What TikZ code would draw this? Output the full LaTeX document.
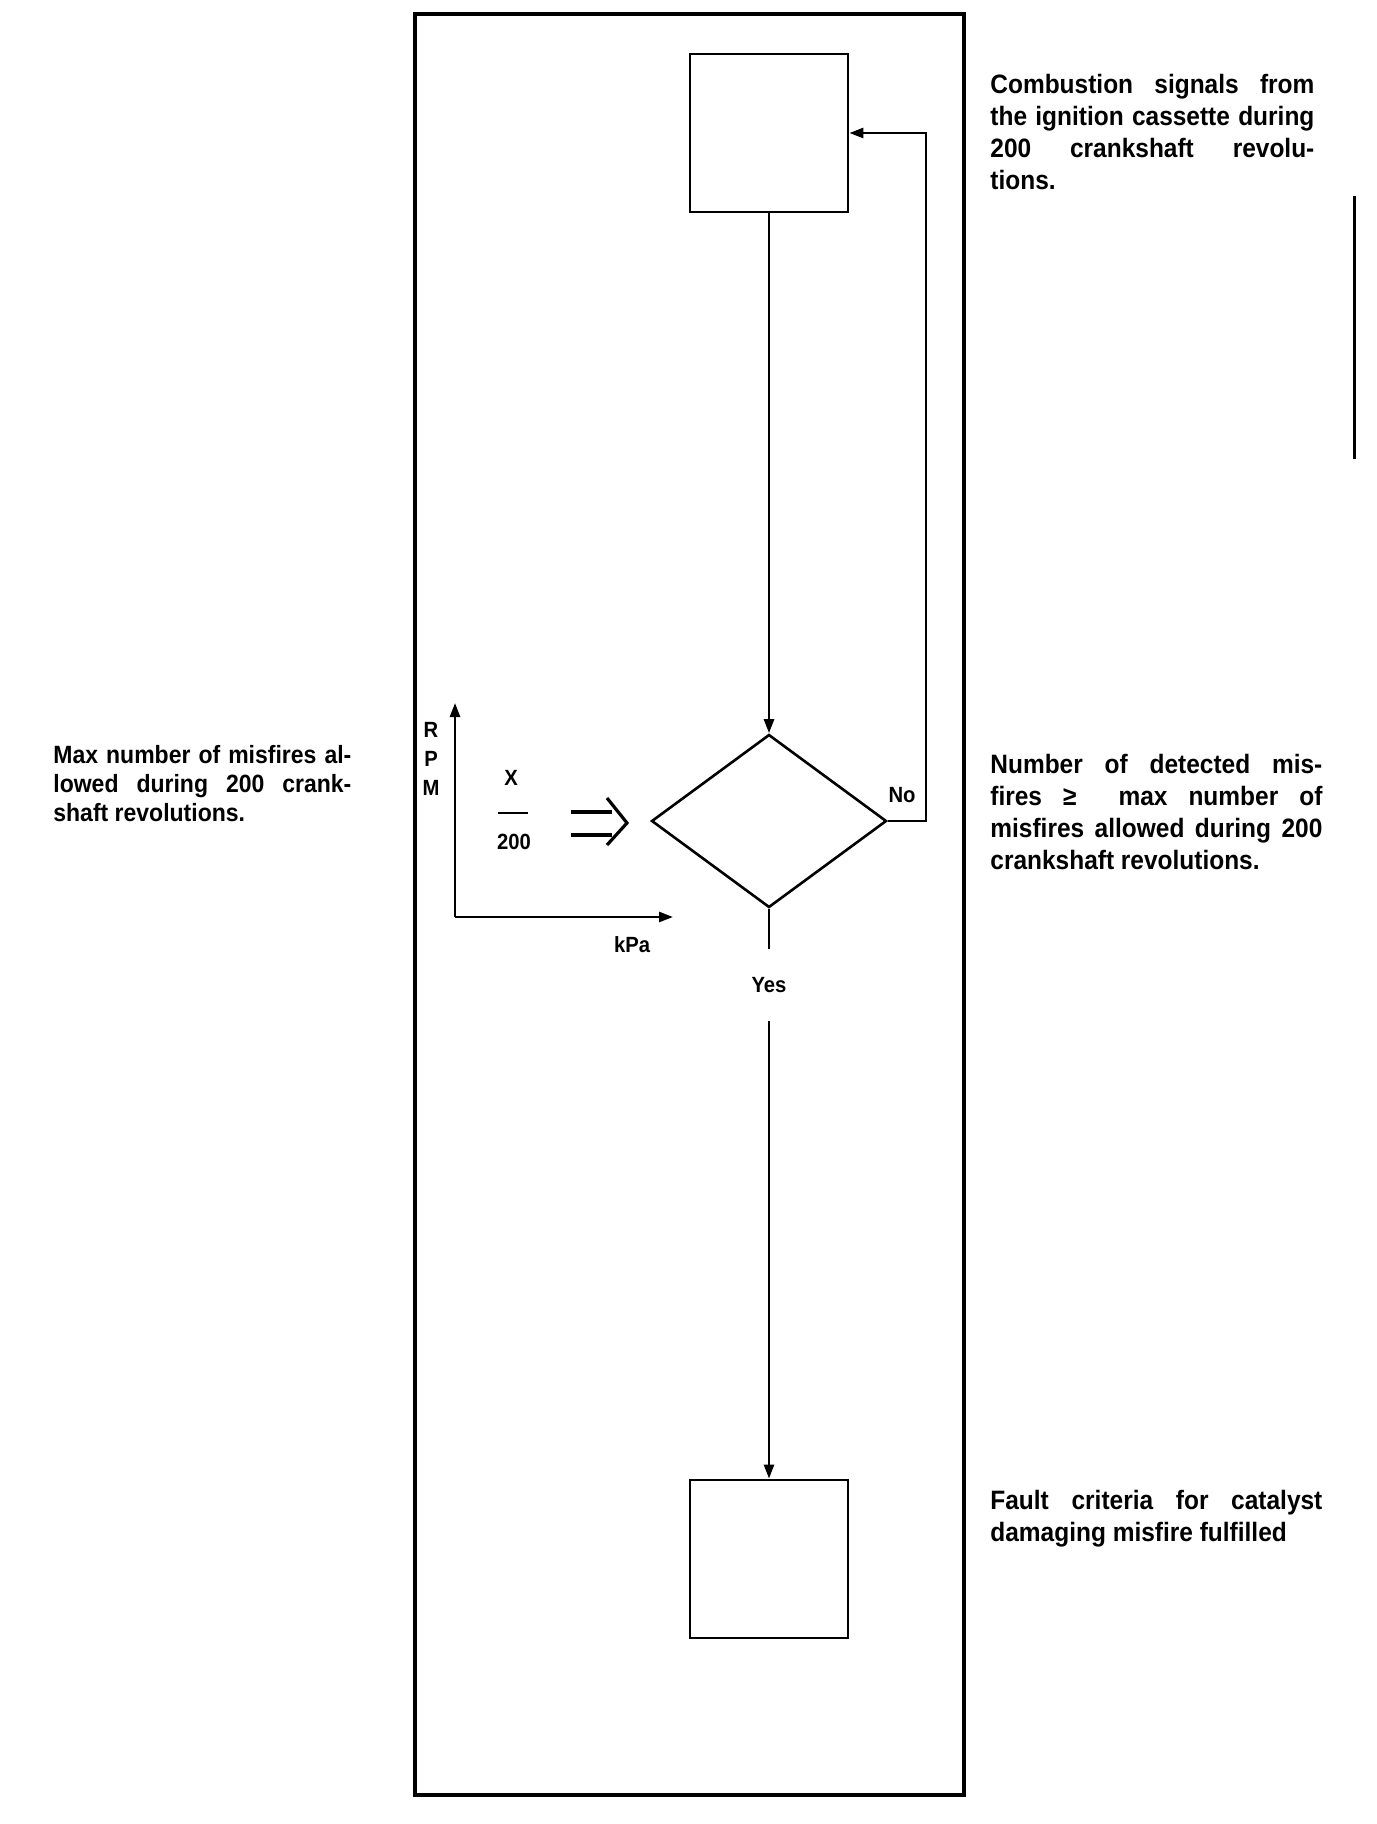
\documentclass[tikz,border=0pt]{standalone}
\usepackage{fontspec}
\setmainfont{Liberation Sans}[FakeStretch=0.92]
\usetikzlibrary{positioning, arrows.meta, shapes.geometric}

\begin{document}
\begin{tikzpicture}[x=0.5pt, y=-0.5pt,
  every node/.style={font=\bfseries\fontsize{11}{13}\selectfont, inner sep=0pt},
  arr/.style={-{Triangle[length=7pt, width=5pt]}, line width=1.3pt},
  line/.style={line width=1.3pt},
  stepbox/.style={draw, line width=1.4pt, minimum width=79pt, minimum height=79pt},
  decision/.style={draw, diamond, line width=1.3pt, minimum width=117.5pt,
    minimum height=86.5pt},
  note/.style={anchor=north west, align=justify,
    font=\bfseries\fontsize{13.3}{16}\selectfont}
]
  \useasboundingbox (0,0) rectangle (1376,1824);

  % Frame
  \draw[line width=1.7pt] (415,14) rectangle (964,1795);

  % Flow
  \node[stepbox] (sig) at (769,133) {};
  \node[decision] (dec) at (769,821) {};
  \node[stepbox] (fault) at (769,1559) {};
  \node[minimum height=36pt] (yes) at (769,985) {Yes};
  \node (no) at (902,795) {No};

  \draw[arr] (sig.south) -- (dec.north);
  \draw[arr] (dec.east) -- ++(38,0) |- (sig.east);
  \draw[line] (dec.south) -- (yes.north);
  \draw[arr] (yes.south) -- (fault.north);

  % RPM / kPa map
  \coordinate (orig) at (455,917);
  \coordinate (rpmtip) at (455,703);
  \coordinate (kpatip) at (673,917);
  \draw[arr] (orig) -- (rpmtip);
  \draw[arr] (orig) -- (kpatip);
  \node (r) at (431,730) {R};
  \node (p) at (431,759) {P};
  \node (m) at (431,788) {M};
  \node (kpa) at (632,945) {kPa};
  \node (xval) at (511,778) {X};
  \node (n200) at (514,842) {200};
  \draw[line width=1pt] (498,813) -- (528,813);

  % Double arrow into decision
  \coordinate (dbl) at (571,823);
  \draw[line width=2pt] (dbl) ++(0,-11) -- ++(41,0);
  \draw[line width=2pt] (dbl) ++(0,12) -- ++(41,0);
  \draw[line width=1.6pt] (dbl) ++(36,-25) -- ++(20,25) -- ++(-20,22);

  % Notes
  \node[note, text width=162pt] (sigtxt) at (990,74)
    {Combustion signals from\linebreak the ignition cassette during\linebreak
     200 crankshaft revolu-\linebreak tions.};
  \node[note, text width=166pt] (dectxt) at (990,754)
    {Number of detected mis-\linebreak fires ≥ \ max number of\linebreak
     misfires allowed during 200\linebreak crankshaft revolutions.};
  \node[note, text width=166pt] (faulttxt) at (990,1490)
    {Fault criteria for catalyst\linebreak damaging misfire fulfilled};
  \node[note, text width=149pt, font=\bfseries\fontsize{12.5}{14.5}\selectfont]
    (maxtxt) at (53,745)
    {Max number of misfires al-\linebreak lowed during 200 crank-\linebreak
     shaft revolutions.};

  % Change bar
  \draw[line width=1.5pt] (1354,196) -- (1354,459);
\end{tikzpicture}
\end{document}
